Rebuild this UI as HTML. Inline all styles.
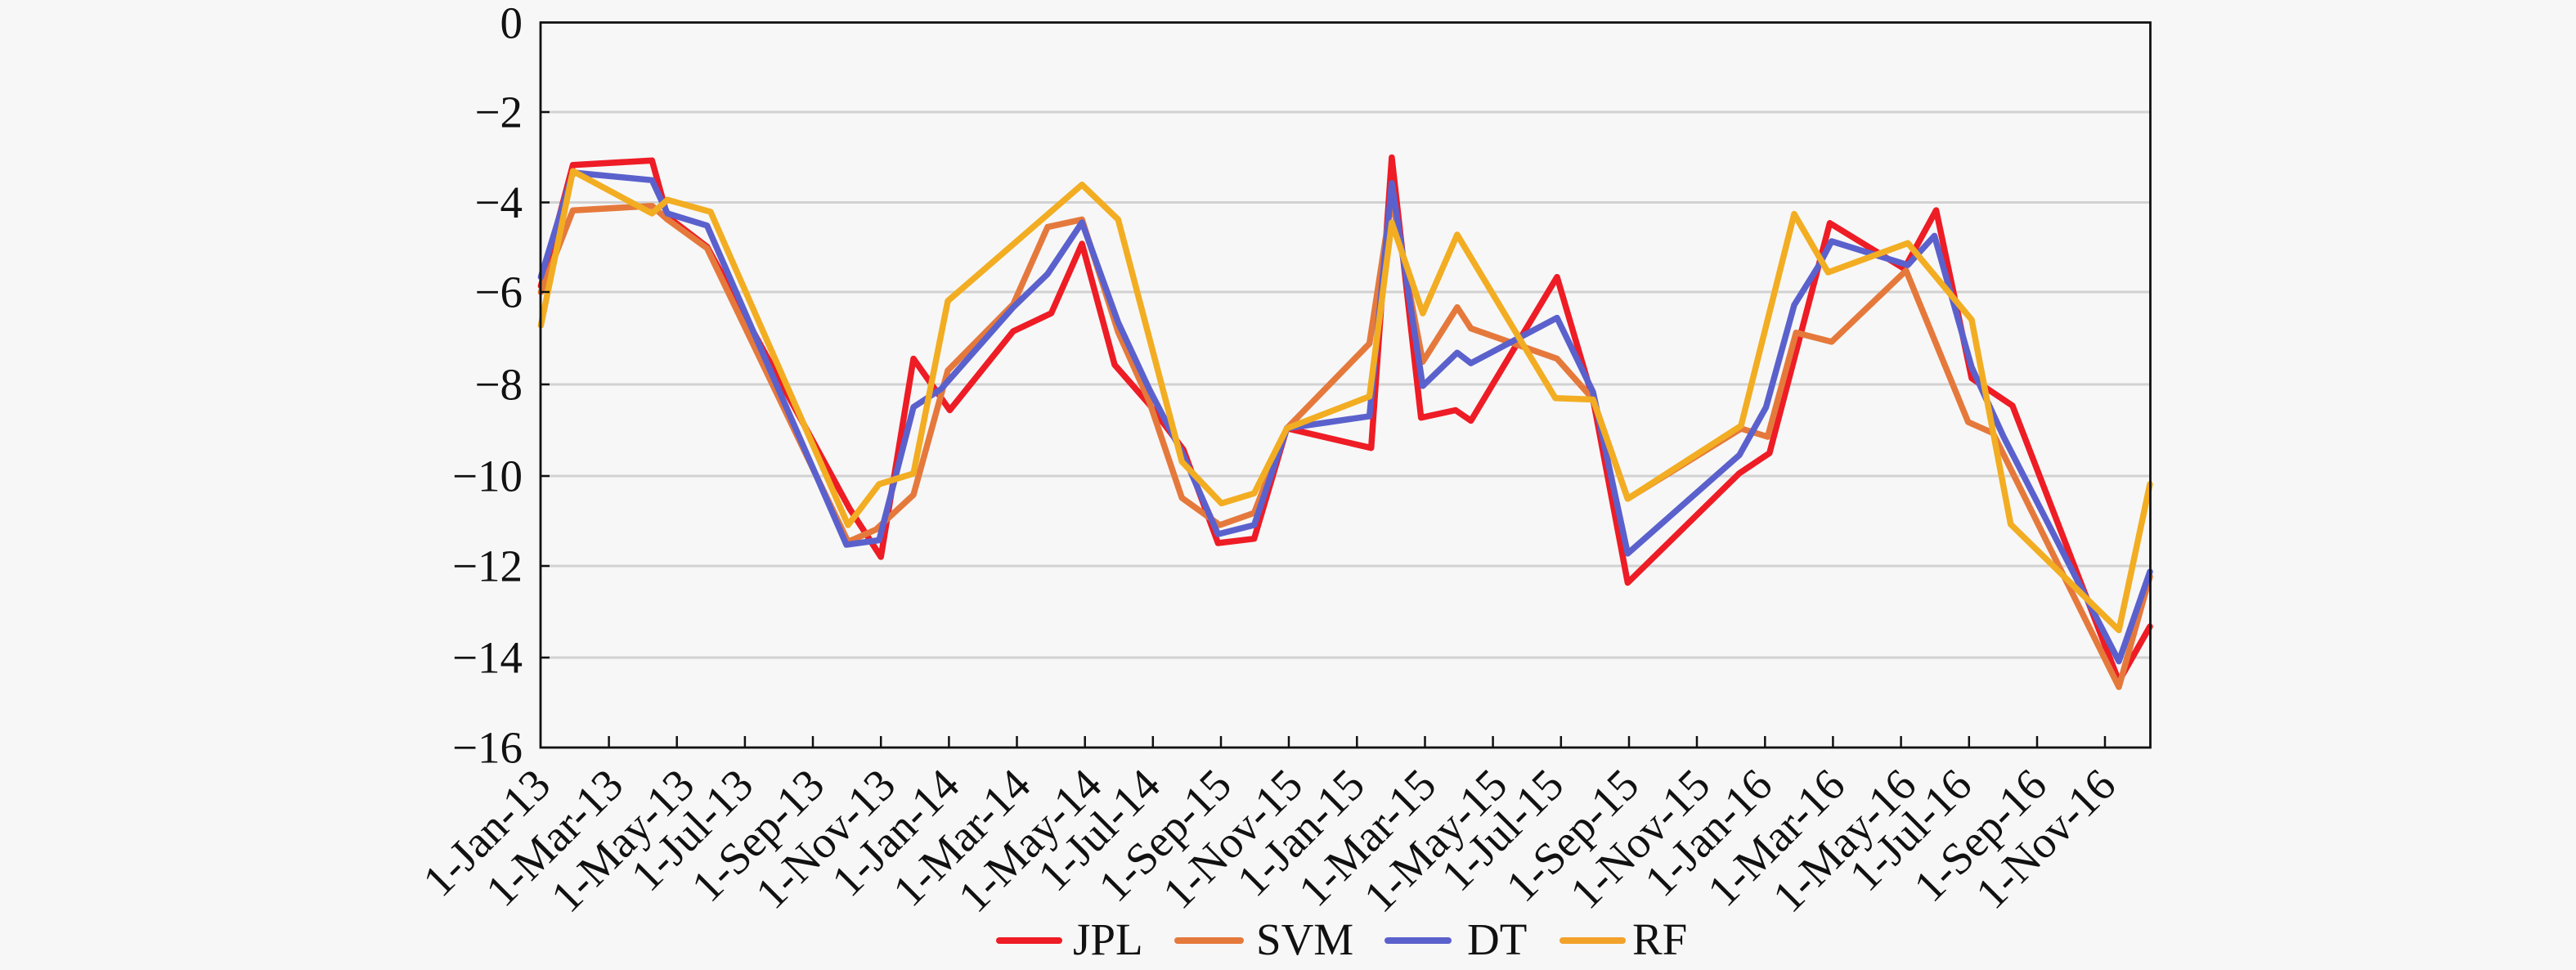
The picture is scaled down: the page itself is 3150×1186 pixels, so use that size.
<!DOCTYPE html>
<html>
<head>
<meta charset="utf-8">
<style>
  html,body{margin:0;padding:0;background:#f7f7f7;}
  svg{display:block;}
  text{font-family:"Liberation Serif","Times New Roman",serif;fill:#111;}
</style>
</head>
<body>
<svg width="3150" height="1186" viewBox="0 0 3150 1186" xmlns="http://www.w3.org/2000/svg">
  <rect x="0" y="0" width="3150" height="1186" fill="#f7f7f7"/>

  <!-- gridlines -->
  <g stroke="#d2d2d2" stroke-width="3">
    <line x1="661" y1="137" x2="2629" y2="137"/>
    <line x1="661" y1="247.5" x2="2629" y2="247.5"/>
    <line x1="661" y1="357" x2="2629" y2="357"/>
    <line x1="661" y1="470" x2="2629" y2="470"/>
    <line x1="661" y1="582" x2="2629" y2="582"/>
    <line x1="661" y1="692" x2="2629" y2="692"/>
    <line x1="661" y1="804" x2="2629" y2="804"/>
  </g>

  <!-- series -->
  <g fill="none" stroke-width="7.5" stroke-linejoin="round" stroke-linecap="round">
    <polyline stroke="#ee1c25" points="661.4,349.8 700.5,201.8 797.3,196.2 816.2,264.7 864.6,301.7 1039,622 1077.2,680.9 1117,438.6 1161.4,501.5 1239,405 1285.5,383 1323.1,298 1363,446 1405,494 1447,549.6 1489.4,664 1533.6,658.7 1573.6,523.7 1676.7,547.7 1701.9,192.5 1737.7,510.7 1779.8,501.5 1798.7,514.4 1904,338.7 1948,488 1990.4,712.5 2127,578.6 2163.8,554 2237.5,272.8 2328.6,328.6 2367.6,257.1 2411,462.5 2460.9,496 2591,833 2629,766"/>
    <polyline stroke="#e5793c" points="661.4,357.2 700.5,257.3 797.3,251.7 816.2,268.4 864.6,303.5 1037,662.4 1071,647.6 1117,605 1159,453 1239,372 1281,277.6 1323.1,268.4 1367.3,406 1405.2,490.4 1445.2,608.7 1491.5,642 1533.6,627.2 1573.6,523.7 1674.6,420 1701.9,242.5 1739.8,442.3 1781.9,375.7 1798.7,401.6 1904,438.6 1948,488 1990.4,609.8 2129,524 2161.6,534 2196.3,406.7 2239.7,417.9 2330.8,330.8 2406.7,516 2437,529.5 2591,840 2629,705"/>
    <polyline stroke="#5b61cc" points="661.4,338.7 700.5,211 797.3,220.3 816.2,261 864.6,275.8 1035,666 1075,660.5 1117,497.8 1150.8,475.6 1239,375.7 1281,335 1323.1,272 1367.3,394.2 1405.2,475.6 1447.3,557 1489.4,653.1 1533.6,642 1573.6,523.7 1674.6,508.9 1701.9,224 1739.8,471.9 1781.9,431.2 1798.7,444.1 1904,388.6 1948,479.3 1990.4,676.8 2127,556.3 2159.5,498 2194,373 2224.5,324 2239.7,295 2333,324 2365.5,288.4 2411,449 2450,534 2591,808.5 2629,699"/>
    <polyline stroke="#f2ad22" points="661.4,397.9 700.5,209.2 797.3,261 816.2,244.3 868.9,259 1037,642 1075,592 1117,579 1159,368 1323.1,225.8 1367.3,268.4 1445.2,564.4 1493.6,615.4 1533.6,603.2 1573.6,523.7 1674.6,484.8 1701.9,272.1 1739.8,383.1 1781.9,286.9 1864,423.8 1901.9,486.7 1948,488.5 1990.4,609.8 2129,520.5 2194,261.6 2235.4,333 2333,297.3 2411,391 2458.7,641 2591,770.5 2629,592"/>
  </g>

  <!-- axes frame -->
  <rect x="661" y="27.5" width="1968.5" height="886.5" fill="none" stroke="#111" stroke-width="2.8"/>

  <!-- y ticks -->
  <g stroke="#111" stroke-width="2.5">
    <line x1="661" y1="137" x2="672" y2="137"/>
    <line x1="661" y1="247.5" x2="672" y2="247.5"/>
    <line x1="661" y1="357" x2="672" y2="357"/>
    <line x1="661" y1="470" x2="672" y2="470"/>
    <line x1="661" y1="582" x2="672" y2="582"/>
    <line x1="661" y1="692" x2="672" y2="692"/>
    <line x1="661" y1="804" x2="672" y2="804"/>
  </g>

  <!-- x ticks -->
  <g stroke="#111" stroke-width="2.5">
    <line x1="744.6" y1="914" x2="744.6" y2="900"/>
    <line x1="827.7" y1="914" x2="827.7" y2="900"/>
    <line x1="910.9" y1="914" x2="910.9" y2="900"/>
    <line x1="994" y1="914" x2="994" y2="900"/>
    <line x1="1077.2" y1="914" x2="1077.2" y2="900"/>
    <line x1="1160.4" y1="914" x2="1160.4" y2="900"/>
    <line x1="1243.5" y1="914" x2="1243.5" y2="900"/>
    <line x1="1326.7" y1="914" x2="1326.7" y2="900"/>
    <line x1="1409.8" y1="914" x2="1409.8" y2="900"/>
    <line x1="1493" y1="914" x2="1493" y2="900"/>
    <line x1="1576" y1="914" x2="1576" y2="900"/>
    <line x1="1659.3" y1="914" x2="1659.3" y2="900"/>
    <line x1="1742.5" y1="914" x2="1742.5" y2="900"/>
    <line x1="1825.6" y1="914" x2="1825.6" y2="900"/>
    <line x1="1908.8" y1="914" x2="1908.8" y2="900"/>
    <line x1="1992" y1="914" x2="1992" y2="900"/>
    <line x1="2075" y1="914" x2="2075" y2="900"/>
    <line x1="2158.3" y1="914" x2="2158.3" y2="900"/>
    <line x1="2241.4" y1="914" x2="2241.4" y2="900"/>
    <line x1="2324.6" y1="914" x2="2324.6" y2="900"/>
    <line x1="2407.8" y1="914" x2="2407.8" y2="900"/>
    <line x1="2491" y1="914" x2="2491" y2="900"/>
    <line x1="2574" y1="914" x2="2574" y2="900"/>
  </g>

  <!-- y labels -->
  <g font-size="55" text-anchor="end">
    <text x="639" y="46.5">0</text>
    <text x="639" y="155.5">−2</text>
    <text x="639" y="266">−4</text>
    <text x="639" y="375.5">−6</text>
    <text x="639" y="488.5">−8</text>
    <text x="639" y="600.5">−10</text>
    <text x="639" y="710.5">−12</text>
    <text x="639" y="822.5">−14</text>
    <text x="639" y="932.5">−16</text>
  </g>

  <!-- x labels -->
  <g font-size="55" text-anchor="end">
    <text transform="translate(676,963) rotate(-45)">1-Jan-13</text>
    <text transform="translate(765,963) rotate(-45)">1-Mar-13</text>
    <text transform="translate(852,963) rotate(-45)">1-May-13</text>
    <text transform="translate(924,963) rotate(-45)">1-Jul-13</text>
    <text transform="translate(1011,963) rotate(-45)">1-Sep-13</text>
    <text transform="translate(1098,963) rotate(-45)">1-Nov-13</text>
    <text transform="translate(1176,963) rotate(-45)">1-Jan-14</text>
    <text transform="translate(1263,963) rotate(-45)">1-Mar-14</text>
    <text transform="translate(1350,963) rotate(-45)">1-May-14</text>
    <text transform="translate(1421.6,963) rotate(-45)">1-Jul-14</text>
    <text transform="translate(1508.7,963) rotate(-45)">1-Sep-15</text>
    <text transform="translate(1595.8,963) rotate(-45)">1-Nov-15</text>
    <text transform="translate(1671.6,963) rotate(-45)">1-Jan-15</text>
    <text transform="translate(1759,963) rotate(-45)">1-Mar-15</text>
    <text transform="translate(1846,963) rotate(-45)">1-May-15</text>
    <text transform="translate(1915,963) rotate(-45)">1-Jul-15</text>
    <text transform="translate(2007,963) rotate(-45)">1-Sep-15</text>
    <text transform="translate(2094,963) rotate(-45)">1-Nov-15</text>
    <text transform="translate(2170,963) rotate(-45)">1-Jan-16</text>
    <text transform="translate(2259,963) rotate(-45)">1-Mar-16</text>
    <text transform="translate(2346,963) rotate(-45)">1-May-16</text>
    <text transform="translate(2414,963) rotate(-45)">1-Jul-16</text>
    <text transform="translate(2505.6,963) rotate(-45)">1-Sep-16</text>
    <text transform="translate(2590,963) rotate(-45)">1-Nov-16</text>
  </g>

  <!-- legend -->
  <g stroke-width="8" stroke-linecap="round">
    <line x1="1222" y1="1150" x2="1295" y2="1150" stroke="#ee1c25"/>
    <line x1="1440" y1="1150" x2="1517" y2="1150" stroke="#e5793c"/>
    <line x1="1697" y1="1150" x2="1771" y2="1150" stroke="#5b61cc"/>
    <line x1="1911" y1="1150" x2="1984" y2="1150" stroke="#f2a22a"/>
  </g>
  <g font-size="55">
    <text x="1312" y="1167">JPL</text>
    <text x="1536" y="1167">SVM</text>
    <text x="1794" y="1167">DT</text>
    <text x="1996" y="1167">RF</text>
  </g>
</svg>
</body>
</html>
